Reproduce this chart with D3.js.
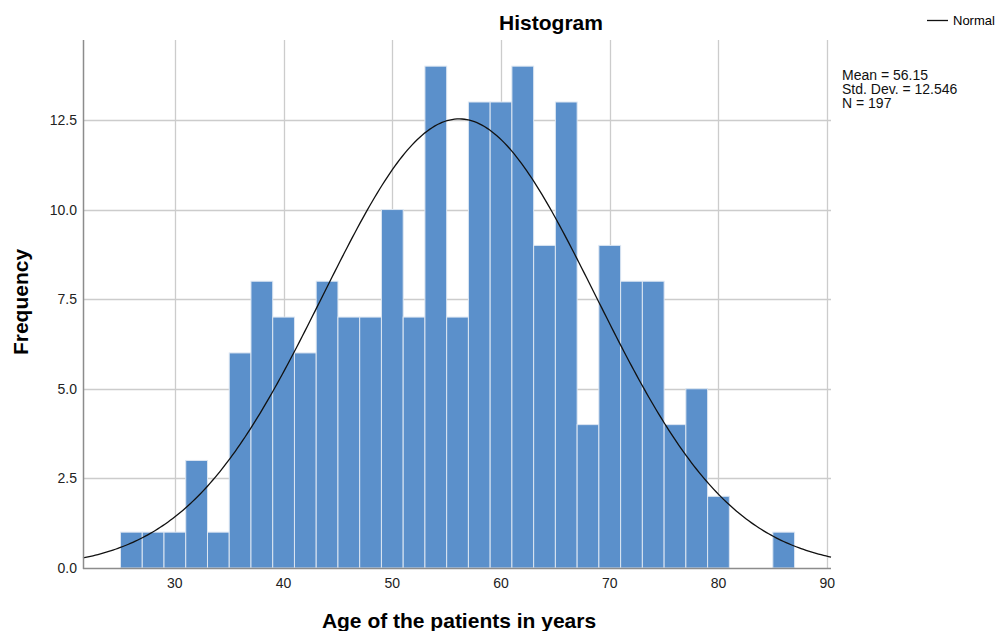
<!DOCTYPE html>
<html>
<head>
<meta charset="utf-8">
<script src="https://cdn.jsdelivr.net/npm/d3@7"></script>
<style>
  body { margin: 0; background: #fff; }
  text { font-family: "Liberation Sans", Arial, sans-serif; }
</style>
</head>
<body>
<script>
// histogram data: bins of 2 years starting at 25
var binStarts = [25, 27, 29, 31, 33, 35, 37, 39, 41, 43, 45, 47, 49, 51, 53, 55, 57, 59, 61, 63, 65, 67, 69, 71, 73, 75, 77, 79, 81, 83, 85];
var counts    = [ 1,  1,  1,  3,  1,  6,  8,  7,  6,  8,  7,  7, 10,  7, 14,  7, 13, 13, 14,  9, 13,  4,  9,  8,  8,  4,  5,  2,  0,  0,  1];
var binWidth = 2;
var xTicks = [30, 40, 50, 60, 70, 80, 90];
var yTicks = [0, 2.5, 5, 7.5, 10, 12.5];
var stats = {mean: 56.15, sd: 12.546, n: 197};
var statLines = ["Mean = 56.15", "Std. Dev. = 12.546", "N = 197"];

var W = 1000, H = 631,
    plot = {left: 83, right: 831, top: 40, bottom: 568},
    col = {bar: "#5b90cb", barStroke: "#dce6f2", grid: "#cccccc", axis: "#8c8c8c", text: "#222"};

var svg = d3.select("body").append("svg")
    .attr("width", W)
    .attr("height", H);

var x = d3.scaleLinear().domain([21.55, 90.35]).range([plot.left, plot.right]);
var y = d3.scaleLinear().domain([0, 14.73]).range([plot.bottom, plot.top]);

// grid
svg.append("g").selectAll("line")
    .data(yTicks.filter(function(d) { return d > 0; }))
    .enter().append("line")
        .attr("x1", plot.left).attr("x2", plot.right)
        .attr("y1", function(d) { return Math.round(y(d)) + 0.5; })
        .attr("y2", function(d) { return Math.round(y(d)) + 0.5; })
        .attr("stroke", col.grid).attr("stroke-width", 1.3);

svg.append("g").selectAll("line")
    .data(xTicks)
    .enter().append("line")
        .attr("x1", function(d) { return Math.round(x(d)) + 0.5; })
        .attr("x2", function(d) { return Math.round(x(d)) + 0.5; })
        .attr("y1", plot.top).attr("y2", plot.bottom)
        .attr("stroke", col.grid).attr("stroke-width", 1.3);

// bars
var bins = binStarts.map(function(s, i) { return {x0: s, x1: s + binWidth, n: counts[i]}; })
    .filter(function(d) { return d.n > 0; });

svg.append("g").selectAll("rect")
    .data(bins)
    .enter().append("rect")
        .attr("x", function(d) { return x(d.x0); })
        .attr("width", function(d) { return x(d.x1) - x(d.x0); })
        .attr("y", function(d) { return y(d.n); })
        .attr("height", function(d) { return y(0) - y(d.n); })
        .attr("fill", col.bar)
        .attr("stroke", col.barStroke)
        .attr("stroke-width", 1);

// normal curve scaled to counts
var scale = stats.n * binWidth / (stats.sd * Math.sqrt(2 * Math.PI));
var xs = d3.range(0, 301).map(function(i) {
    var v = x.domain()[0] + (x.domain()[1] - x.domain()[0]) * i / 300;
    return [v, scale * Math.exp(-0.5 * Math.pow((v - stats.mean) / stats.sd, 2))];
});
svg.append("path")
    .datum(xs)
    .attr("fill", "none")
    .attr("stroke", "#111")
    .attr("stroke-width", 1.3)
    .attr("d", d3.line()
        .x(function(d) { return x(d[0]); })
        .y(function(d) { return y(d[1]); }));

// axes lines (no ticks)
svg.append("line")
    .attr("x1", plot.left + 0.5).attr("x2", plot.left + 0.5)
    .attr("y1", plot.top).attr("y2", plot.bottom + 1)
    .attr("stroke", col.axis).attr("stroke-width", 1.5);
svg.append("line")
    .attr("x1", plot.left).attr("x2", plot.right)
    .attr("y1", plot.bottom + 0.5).attr("y2", plot.bottom + 0.5)
    .attr("stroke", col.axis).attr("stroke-width", 1.5);

// tick labels
svg.append("g").selectAll("text")
    .data(yTicks)
    .enter().append("text")
        .attr("x", 77)
        .attr("y", function(d) { return y(d) + 5; })
        .attr("text-anchor", "end")
        .attr("font-size", "14px")
        .attr("fill", col.text)
        .text(function(d) { return d3.format(".1f")(d); });

svg.append("g").selectAll("text")
    .data(xTicks)
    .enter().append("text")
        .attr("x", function(d) { return x(d); })
        .attr("y", 588)
        .attr("text-anchor", "middle")
        .attr("font-size", "14px")
        .attr("fill", col.text)
        .text(function(d) { return d; });

// titles
svg.append("text")
    .attr("x", 551).attr("y", 30)
    .attr("text-anchor", "middle")
    .attr("font-size", "21px").attr("font-weight", "bold")
    .text("Histogram");

svg.append("text")
    .attr("x", 459).attr("y", 628)
    .attr("text-anchor", "middle")
    .attr("font-size", "21px").attr("font-weight", "bold")
    .text("Age of the patients in years");

svg.append("text")
    .attr("transform", "translate(28,302) rotate(-90)")
    .attr("text-anchor", "middle")
    .attr("font-size", "21px").attr("font-weight", "bold")
    .text("Frequency");

// legend
svg.append("line")
    .attr("x1", 927).attr("x2", 948)
    .attr("y1", 20.5).attr("y2", 20.5)
    .attr("stroke", "#111").attr("stroke-width", 1.3);
svg.append("text")
    .attr("x", 953).attr("y", 25)
    .attr("font-size", "13px")
    .text("Normal");

svg.append("g").selectAll("text")
    .data(statLines)
    .enter().append("text")
        .attr("x", 842)
        .attr("y", function(d, i) { return 80 + i * 14; })
        .attr("font-size", "14px")
        .attr("fill", "#111")
        .text(function(d) { return d; });
</script>
</body>
</html>
